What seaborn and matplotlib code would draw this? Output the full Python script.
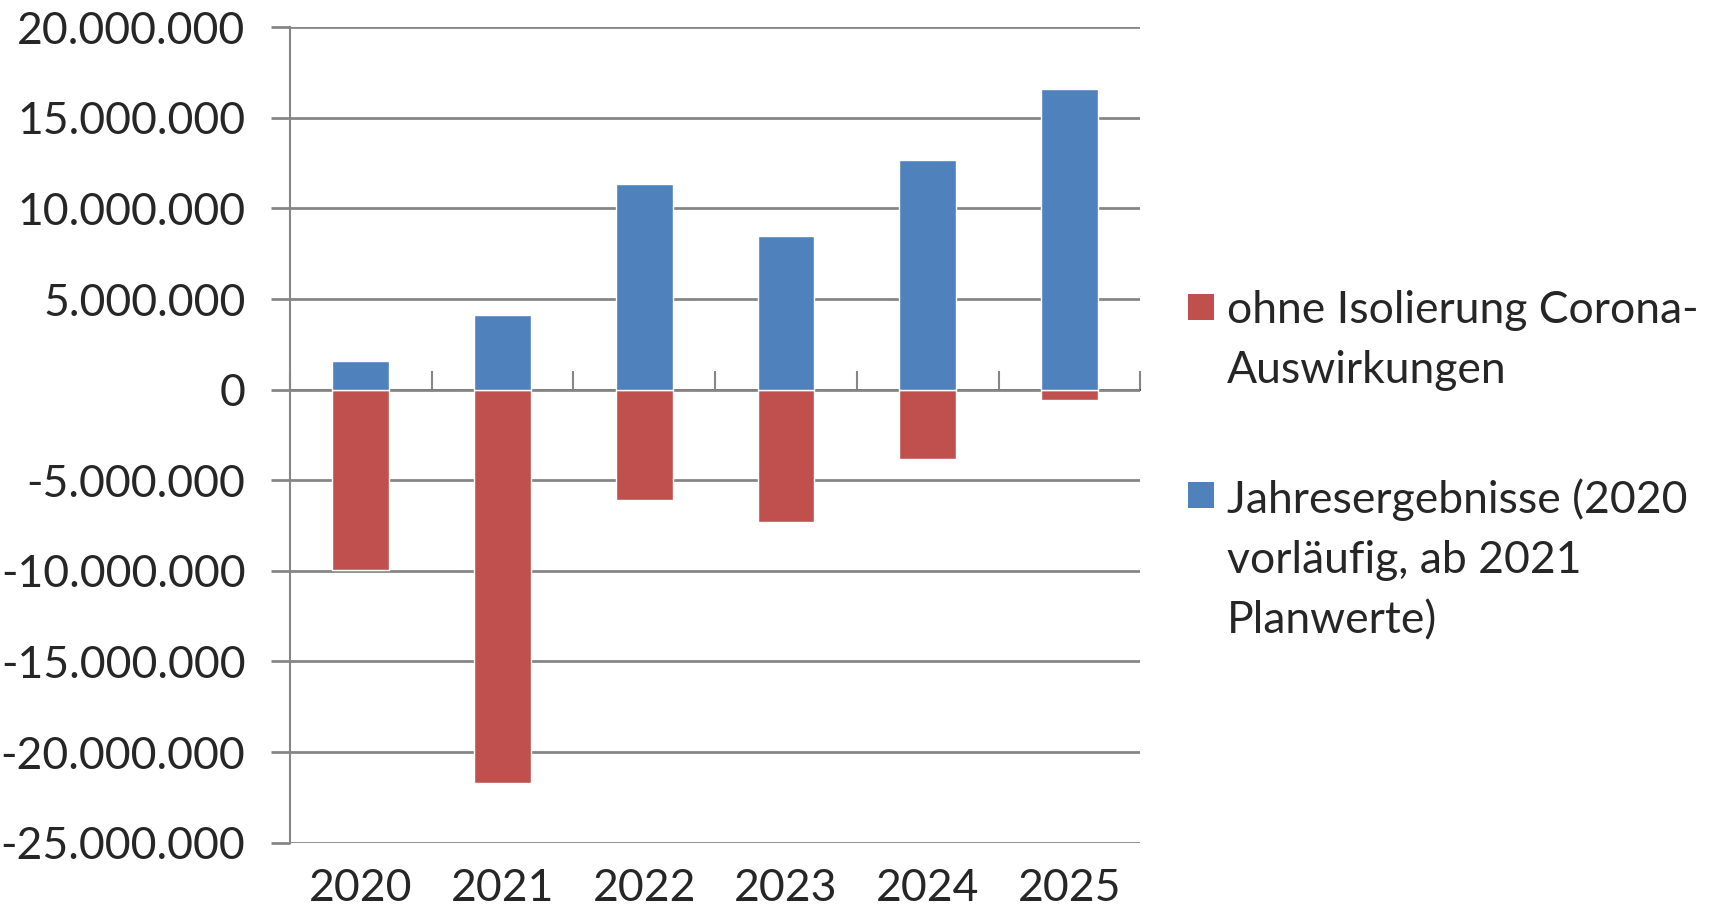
import matplotlib
matplotlib.use("Agg")
import matplotlib.pyplot as plt
from matplotlib.patches import Rectangle
import seaborn as sns
import numpy as np
import pandas as pd

# data
years = ["2020", "2021", "2022", "2023", "2024", "2025"]
jahresergebnisse = [1_560_000, 4_100_000, 11_350_000, 8_460_000, 12_700_000, 16_610_000]
ohne_isolierung = [-9_940_000, -21_730_000, -6_100_000, -7_280_000, -3_810_000, -580_000]
y_ticks = list(range(-25_000_000, 20_000_001, 5_000_000))

labels = ["ohne Isolierung Corona-\nAuswirkungen",
          "Jahresergebnisse (2020\nvorläufig, ab 2021\nPlanwerte)"]
colors = ["#C0504D", "#4F81BD"]
grid_col = "#868686"

df = pd.DataFrame({"Jahr": years, "blau": jahresergebnisse, "rot": ohne_isolierung})

sns.set_theme(style="white")
plt.rcParams["font.family"] = ["Lato", "DejaVu Sans"]
fs = 32

fig = plt.figure(figsize=(17.15, 9.10), dpi=100)
ax = fig.add_axes([0.169, 0.074, 0.496, 0.896])

sns.barplot(data=df, x="Jahr", y="rot", order=years, color=colors[0],
            width=0.4, saturation=1, ax=ax, zorder=3)
sns.barplot(data=df, x="Jahr", y="blau", order=years, color=colors[1],
            width=0.4, saturation=1, ax=ax, zorder=3)

ax.set_xlim(-0.5, len(years) - 0.5)
ax.set_ylim(y_ticks[0], y_ticks[-1])
ax.set_yticks(y_ticks)
ax.set_yticklabels([f"{v:,}".replace(",", ".") for v in y_ticks], fontsize=fs)
ax.set_xlabel("")
ax.set_ylabel("")
ax.grid(axis="y", color=grid_col, linewidth=2, zorder=0)
for side in ["top", "right", "bottom"]:
    ax.spines[side].set_visible(False)
ax.spines["left"].set_color(grid_col)
ax.spines["left"].set_linewidth(1.5)
ax.tick_params(axis="y", direction="out", length=14, width=2, color=grid_col,
               pad=18, left=True)
ax.tick_params(axis="x", length=0, labelsize=fs, pad=18)

# zero line with tick marks between the categories
zero_pos = (0 - y_ticks[0]) / (y_ticks[-1] - y_ticks[0])
sec = ax.secondary_xaxis(zero_pos)
sec.set_xticks(np.arange(-0.5, len(years), 1.0))
sec.set_xticklabels([])
sec.spines["bottom"].set_color(grid_col)
sec.spines["bottom"].set_linewidth(2)
sec.tick_params(axis="x", direction="out", length=14, width=1.5, color=grid_col)

# legend on the right
W, H = 1715, 910
entry_top = [307, 495]
for lab, col, yc in zip(labels, colors, entry_top):
    fig.patches.append(Rectangle((1188 / W, 1 - (yc + 13) / H), 26 / W, 26 / H,
                                 transform=fig.transFigure, facecolor=col,
                                 edgecolor="none"))
    fig.text(1227 / W, 1 - (yc - 17) / H, lab, fontsize=fs, va="top", ha="left",
             linespacing=1.58)

fig.savefig("out.png", dpi=100)
